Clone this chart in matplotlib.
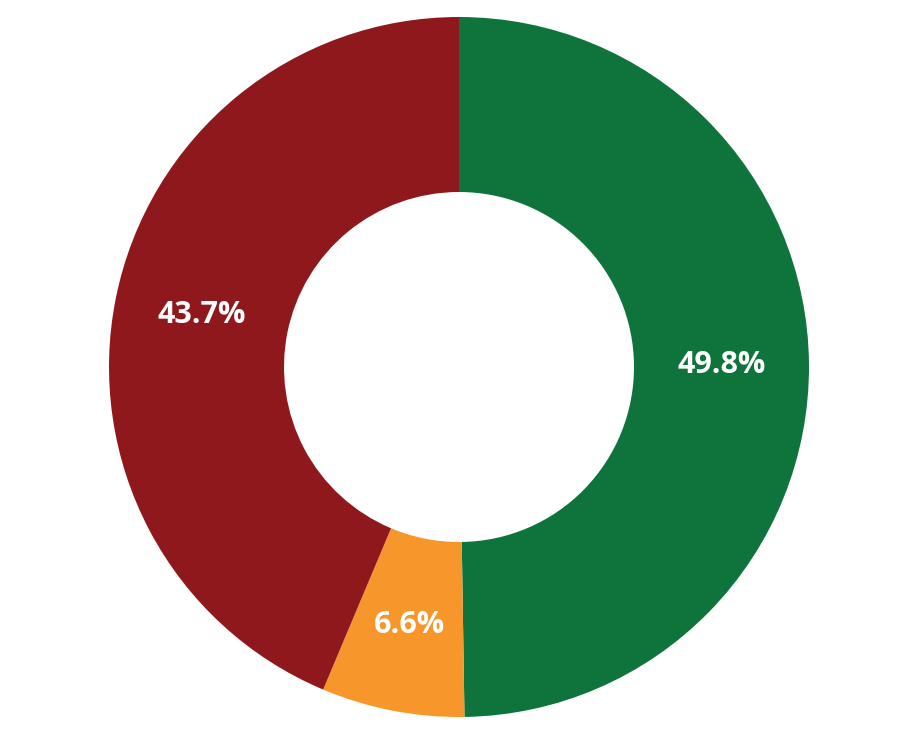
import matplotlib.pyplot as plt

# shares, clockwise from 12 o'clock
labels = ['A', 'B', 'C']
values = [49.8, 6.6, 43.7]
colors = ['#0f743c', '#f7962b', '#8f181c']

fig = plt.figure(figsize=(9.19, 7.38), dpi=100)
ax = fig.add_axes([109 / 919, 21 / 738, 700 / 919, 700 / 738])

wedges, texts, autotexts = ax.pie(
    values, colors=colors, startangle=90, counterclock=False,
    radius=1, autopct='%.1f%%', pctdistance=0.75,
    wedgeprops=dict(width=0.5, linewidth=0),
    textprops=dict(color='white', fontsize=22, fontweight='bold',
                   family=['Open Sans', 'DejaVu Sans']))

ax.set_xlim(-1, 1)
ax.set_ylim(-1, 1)
ax.set_aspect('equal')
ax.axis('off')

fig.savefig('out.png', dpi=100)
